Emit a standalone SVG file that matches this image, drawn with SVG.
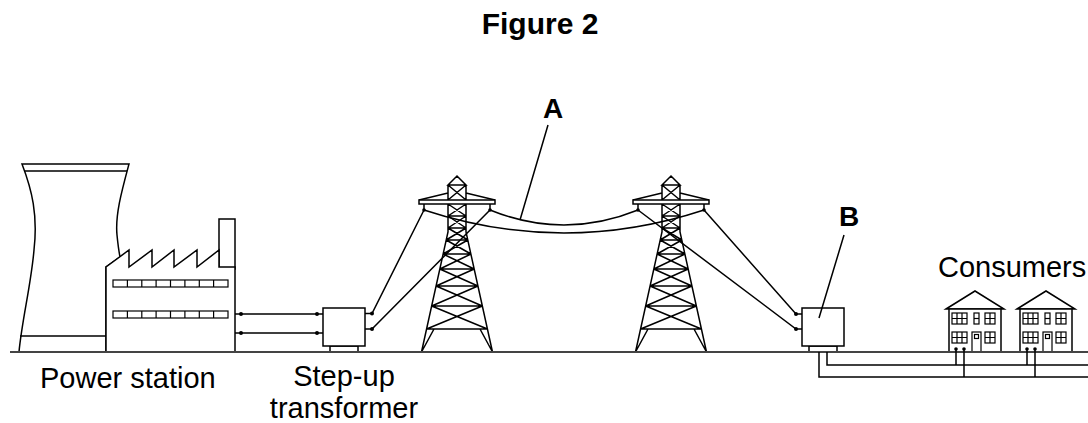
<svg xmlns="http://www.w3.org/2000/svg" xmlns:xlink="http://www.w3.org/1999/xlink" width="1088" height="423" viewBox="0 0 1088 423">
<style>
.ln{fill:none;stroke:#000;stroke-width:1.5;stroke-linejoin:miter}
.wf{fill:#fff;stroke:#000;stroke-width:1.5}
.dot{fill:#000}
.t{font-family:"Liberation Sans",Arial,sans-serif;fill:#000}
.lbl{font-size:29px}
.b{font-weight:bold;font-size:28px}
.gnd{stroke:#444;stroke-width:2;fill:none}
</style>
<defs>
<g id="pylon">
<path class="ln" d="M-9,185 L0,176 L9,185 Z M-9,185 V232 L-35.5,352 M9,185 V232 L35.5,352 M-9,185 L9,200 M9,185 L-9,200 M-38,200 L-9,193 M38,200 L9,193 M-9,216 H9 M-9,228 H9 M-10.8,240 H10.8 M-13.9,254 H13.9 M-17.2,269 H17.2 M-20.9,286 H20.9 M-25.3,306 H25.3 M-30.4,329 H30.4 M-9,204 L9,216 M9,204 L-9,216 M-9,216 L9,228 M9,216 L-9,228 M-9,228 L10.8,240 M9,228 L-10.8,240 M-10.8,240 L13.9,254 M10.8,240 L-13.9,254 M-13.9,254 L17.2,269 M13.9,254 L-17.2,269 M-17.2,269 L20.9,286 M17.2,269 L-20.9,286 M-20.9,286 L25.3,306 M20.9,286 L-25.3,306 M-25.3,306 L30.4,329 M25.3,306 L-30.4,329 M-23,329 L-35.5,352 M23,329 L35.5,352 M-33,204 V210 M33,204 V210"/>
<rect class="wf" x="-38" y="200" width="76" height="4"/>
<circle class="dot" cx="-33" cy="210" r="1.8"/>
<circle class="dot" cx="33" cy="210" r="1.8"/>
</g>
<g id="house">
<path class="wf" d="M946,309 L975,291 L1004,309 Z"/>
<rect class="wf" x="949" y="309" width="52" height="43"/>
<g class="ln" style="stroke-width:1.2">
<rect x="952" y="313" width="15" height="11"/>
<path d="M957,313 V324 M962,313 V324 M952,318.5 H967"/>
<rect x="974" y="313" width="5" height="11"/>
<path d="M974,318.5 H979"/>
<rect x="985" y="313" width="10" height="11"/>
<path d="M990,313 V324 M985,318.5 H995"/>
<rect x="952" y="332" width="15" height="11"/>
<path d="M957,332 V343 M962,332 V343 M952,337.5 H967"/>
<rect x="972" y="332" width="9" height="20"/>
<rect x="974.5" y="334.5" width="4" height="4"/>
<rect x="985" y="332" width="10" height="11"/>
<path d="M990,332 V343 M985,337.5 H995"/>
</g>
</g>
</defs>

<text class="t b" x="540" y="34" text-anchor="middle" style="font-size:30px">Figure 2</text>

<g id="power-station">
<path class="wf" d="M22,164 H129 C122,190 115,215 117,235 C118,245 119,252 120,257 L106,267 V352 H19 C22,320 31,285 34,250 C38,215 32,190 22,164 Z"/>
<path class="ln" d="M24,171 H127 M20,336 H106"/>
<rect class="wf" x="219" y="219" width="16" height="50"/>
<path class="wf" d="M106,267 L129,250 V267 L152,250 V267 L174,250 V267 L197,250 V267 L219,250 V267 H235 V352 H106 Z"/>
<g class="ln" style="stroke-width:1.2">
<rect x="113" y="280" width="115" height="7"/>
<path d="M127.4,280 V287 M141.8,280 V287 M156.1,280 V287 M170.5,280 V287 M184.9,280 V287 M199.3,280 V287 M213.6,280 V287"/>
<rect x="113" y="311" width="115" height="7"/>
<path d="M127.4,311 V318 M141.8,311 V318 M156.1,311 V318 M170.5,311 V318 M184.9,311 V318 M199.3,311 V318 M213.6,311 V318"/>
</g>
</g>

<g id="step-up-transformer">
<rect class="wf" x="330" y="346" width="28" height="6"/>
<rect class="wf" x="323" y="308" width="42" height="38"/>
</g>

<g id="pylon-1"><use xlink:href="#pylon" href="#pylon" transform="translate(457,0)"/></g>
<g id="pylon-2"><use xlink:href="#pylon" href="#pylon" transform="translate(671,0)"/></g>

<g id="transformer-b">
<rect class="wf" x="809" y="346" width="28" height="6"/>
<rect class="wf" x="802" y="308" width="42" height="38"/>
</g>

<g id="house-1"><use xlink:href="#house" href="#house"/></g>
<g id="house-2"><use xlink:href="#house" href="#house" transform="translate(71,0)"/></g>

<path id="ground" class="gnd" d="M10,352 H1088"/>

<g id="connectors">
<path class="ln" d="M235,314 H323 M235,333 H323"/>
<circle class="dot" cx="241" cy="314" r="2"/>
<circle class="dot" cx="241" cy="333" r="2"/>
<circle class="dot" cx="317" cy="314" r="2"/>
<circle class="dot" cx="317" cy="333" r="2"/>
<path class="ln" d="M365,313.5 H372 L424,210 M365,329 H372 L490,210"/>
<circle class="dot" cx="372" cy="313.5" r="2"/>
<circle class="dot" cx="372" cy="329" r="2"/>
<path class="ln" d="M490,210 Q564,240 638,210 M424,210 Q564,256 704,210"/>
<path class="ln" d="M638,210 L796,329 H802 M704,210 L796,314 H802"/>
<circle class="dot" cx="796" cy="314" r="2"/>
<circle class="dot" cx="796" cy="329" r="2"/>
<path class="ln" d="M827,352 V365 H1088 M819,352 V377 H1088"/>
<path class="ln" d="M956,349 V365 M964,349 V377 M1027,349 V365 M1035,349 V377"/>
<circle class="dot" cx="956" cy="349" r="1.8"/>
<circle class="dot" cx="964" cy="349" r="1.8"/>
<circle class="dot" cx="1027" cy="349" r="1.8"/>
<circle class="dot" cx="1035" cy="349" r="1.8"/>
<path class="ln" d="M548,125 L520,220 M844,235 L819,318"/>
</g>

<g id="labels">
<text class="t b" x="553" y="118" text-anchor="middle">A</text>
<text class="t b" x="849" y="226" text-anchor="middle">B</text>
<text class="t lbl" x="40" y="388">Power station</text>
<text class="t lbl" x="344" y="386" text-anchor="middle">Step-up</text>
<text class="t lbl" x="344" y="418" text-anchor="middle">transformer</text>
<text class="t lbl" x="938" y="277">Consumers</text>
</g>
</svg>
